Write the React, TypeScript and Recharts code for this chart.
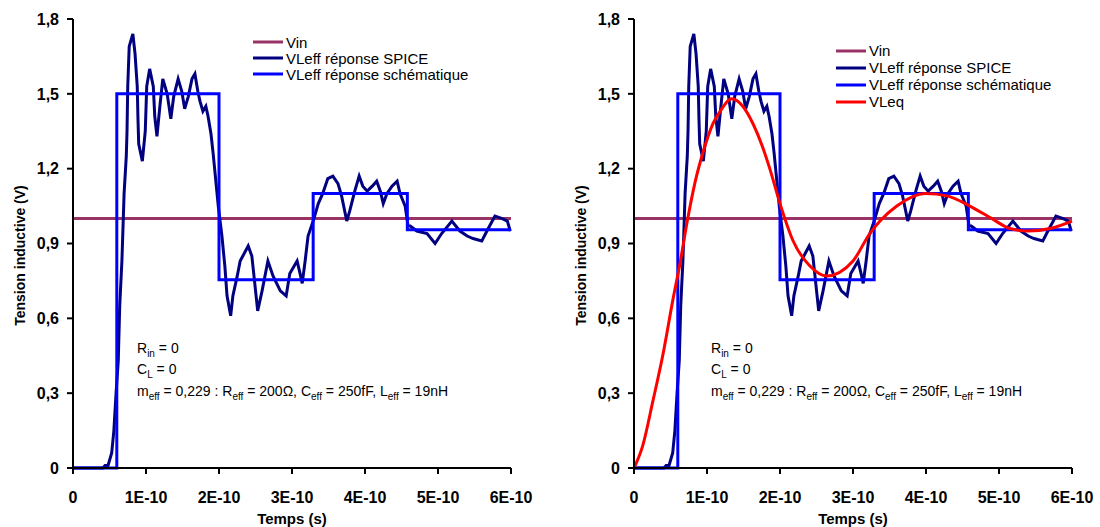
import { LineChart, Line, XAxis, YAxis, Legend } from 'recharts';

const FONT = '"Liberation Sans", Arial, sans-serif';

// time in units of 1E-10 s
const timeTicks = [0, 1, 2, 3, 4, 5, 6];
const voltTicks = [0, 0.3, 0.6, 0.9, 1.2, 1.5, 1.8];

const seriesNames = ['Vin', 'VLeff réponse SPICE', 'VLeff réponse schématique', 'VLeq'];

const vinT = [0, 6];
const vinV = [1, 1];

const spiceT = [
  0, 0.41, 0.44, 0.48, 0.53, 0.56, 0.59, 0.62, 0.64, 0.67, 0.7, 0.73, 0.74, 0.75, 0.77, 0.79, 0.82, 0.85,
  0.88, 0.89, 0.9, 0.95, 0.99, 1.01, 1.05, 1.1, 1.12, 1.15, 1.19, 1.23, 1.29, 1.34, 1.38, 1.44, 1.49,
  1.53, 1.58, 1.63, 1.67, 1.71, 1.74, 1.78, 1.82, 1.85, 1.89, 1.92, 1.95, 1.99, 2.04, 2.08, 2.11, 2.16,
  2.19, 2.25, 2.29, 2.4, 2.45, 2.49, 2.53, 2.59, 2.67, 2.74, 2.84, 2.92, 2.97, 3.07, 3.11, 3.14, 3.18,
  3.22, 3.29, 3.36, 3.42, 3.49, 3.56, 3.63, 3.68, 3.75, 3.79, 3.86, 3.92, 3.97, 4.03, 4.1, 4.16, 4.21,
  4.25, 4.3, 4.37, 4.44, 4.48, 4.55, 4.59, 4.62, 4.71, 4.85, 4.96, 5.05, 5.19, 5.3, 5.4, 5.48, 5.6,
  5.67, 5.78, 5.88, 5.95, 5.99,
];
const spiceV = [
  0, 0, 0.01, 0.01, 0.06, 0.15, 0.3, 0.43, 0.65, 0.83, 1.1, 1.25, 1.35, 1.53, 1.69, 1.71, 1.74, 1.66,
  1.53, 1.4, 1.3, 1.23, 1.35, 1.53, 1.6, 1.53, 1.41, 1.33, 1.45, 1.56, 1.5, 1.4, 1.49, 1.56, 1.51,
  1.44, 1.49, 1.56, 1.58, 1.51, 1.47, 1.43, 1.45, 1.41, 1.34, 1.26, 1.17, 1.05, 0.93, 0.81, 0.69, 0.61,
  0.69, 0.77, 0.83, 0.89, 0.85, 0.74, 0.63, 0.71, 0.83, 0.77, 0.71, 0.69, 0.78, 0.83, 0.78, 0.74, 0.83,
  0.93, 0.99, 1.06, 1.1, 1.16, 1.17, 1.14, 1.09, 0.99, 1.03, 1.11, 1.17, 1.13, 1.11, 1.13, 1.15, 1.11,
  1.06, 1.1, 1.13, 1.15, 1.1, 1.05, 0.97, 0.97, 0.95, 0.94, 0.9, 0.94, 0.99, 0.95, 0.93, 0.92, 0.91,
  0.95, 1.01, 1.0, 0.99, 0.95,
];

const schemT = [0, 0.6, 0.6, 2.0, 2.0, 3.29, 3.29, 4.58, 4.58, 6];
const schemV = [0, 0, 1.5, 1.5, 0.755, 0.755, 1.1, 1.1, 0.955, 0.955];

const leqT = [
  0, 0.12, 0.26, 0.4, 0.53, 0.63, 0.73, 0.84, 0.95, 1.08, 1.18, 1.34, 1.49, 1.63, 1.77, 1.86, 2.0, 2.18,
  2.41, 2.64, 3.0, 3.23, 3.37, 3.6, 3.99, 4.3, 4.6, 4.9, 5.15, 5.4, 5.7, 6.0,
];
const leqV = [
  0, 0.09, 0.27, 0.46, 0.67, 0.82, 0.99, 1.15, 1.27, 1.38, 1.43, 1.48, 1.45, 1.38, 1.28, 1.2, 1.06, 0.91,
  0.81, 0.77, 0.83, 0.94, 0.99, 1.05, 1.1, 1.09, 1.05, 1.0, 0.96, 0.95, 0.96, 0.99,
];

const zip = (t: number[], v: number[]) => t.map((x, i) => ({ t: x, v: v[i] }));

const vinData = zip(vinT, vinV);
const spiceData = zip(spiceT, spiceV);
const schemData = zip(schemT, schemV);
const leqData = zip(leqT, leqV);

const fmtTime = (v: number) => (v === 0 ? '0' : `${v}E-10`);
const fmtVolt = (v: number) => (v === 0 ? '0' : v.toFixed(1).replace('.', ','));

const axisStroke = { stroke: '#000', strokeWidth: 2 };
const tickStyle = { fill: '#000', fontSize: 16, fontWeight: 700, fontFamily: FONT };

// eslint-disable-next-line @typescript-eslint/no-explicit-any
function YTitle({ viewBox }: any) {
  const cx = viewBox.x + 20;
  const cy = viewBox.y + viewBox.height / 2 + 12;
  return (
    <text
      x={cx}
      y={cy}
      transform={`rotate(-90 ${cx} ${cy})`}
      textAnchor="middle"
      dominantBaseline="central"
      fill="#000"
      fontSize={14}
      fontWeight={700}
      fontFamily={FONT}
    >
      Tension inductive (V)
    </text>
  );
}

// eslint-disable-next-line @typescript-eslint/no-explicit-any
function LegendBox({ payload, rowGap }: any) {
  const items = [...(payload ?? [])].sort(
    (a: { value: string }, b: { value: string }) => seriesNames.indexOf(a.value) - seriesNames.indexOf(b.value),
  );
  return (
    <div style={{ fontFamily: FONT, fontSize: 15, color: '#000' }}>
      {items.map((p: { value: string; color: string }) => (
        <div key={p.value} style={{ display: 'flex', alignItems: 'center', height: rowGap, whiteSpace: 'nowrap' }}>
          <svg width={30} height={4} style={{ marginRight: 3 }}>
            <line x1={0} y1={2} x2={30} y2={2} stroke={p.color} strokeWidth={3} />
          </svg>
          <span>{p.value}</span>
        </div>
      ))}
    </div>
  );
}

function Notes({ left }: { left: number }) {
  const row = (top: number) => ({
    position: 'absolute' as const,
    left,
    top,
    fontFamily: FONT,
    fontSize: 14,
    lineHeight: '20px',
    whiteSpace: 'nowrap' as const,
    color: '#000',
  });
  const sub = { fontSize: 10 };
  return (
    <>
      <div style={row(338)}>
        R<sub style={sub}>in</sub> = 0
      </div>
      <div style={row(359)}>
        C<sub style={sub}>L</sub> = 0
      </div>
      <div style={row(381)}>
        m<sub style={sub}>eff</sub> = 0,229 : R<sub style={sub}>eff</sub> = 200Ω, C<sub style={sub}>eff</sub> = 250fF, L
        <sub style={sub}>eff</sub> = 19nH
      </div>
    </>
  );
}

interface PanelProps {
  left: number;
  withLeq: boolean;
  legendLeft: number;
  legendTop: number;
  rowGap: number;
}

function Panel({ left, withLeq, legendLeft, legendTop, rowGap }: PanelProps) {
  return (
    <div style={{ position: 'absolute', left, top: 0 }}>
      <LineChart width={550} height={527} margin={{ top: 19, right: 39, bottom: 0, left: 0 }}>
        <XAxis
          dataKey="t"
          type="number"
          domain={[0, 6]}
          ticks={timeTicks}
          interval={0}
          tickFormatter={fmtTime}
          height={59}
          tickSize={6}
          tickMargin={18}
          axisLine={axisStroke}
          tickLine={axisStroke}
          tick={tickStyle}
          label={{ value: 'Temps (s)', position: 'insideBottom', offset: 3, fill: '#000', fontSize: 15, fontWeight: 700, fontFamily: FONT }}
        />
        <YAxis
          type="number"
          domain={[0, 1.8]}
          ticks={voltTicks}
          interval={0}
          tickFormatter={fmtVolt}
          width={73}
          tickSize={6}
          tickMargin={8}
          axisLine={axisStroke}
          tickLine={axisStroke}
          tick={tickStyle}
          label={<YTitle />}
        />
        <Legend
          layout="vertical"
          align="center"
          verticalAlign="middle"
          wrapperStyle={{ left: legendLeft, top: legendTop, width: 'auto', height: 'auto' }}
          content={(props) => <LegendBox {...props} rowGap={rowGap} />}
        />
        <Line data={vinData} dataKey="v" name={seriesNames[0]} type="linear" stroke="#993366" strokeWidth={3} dot={false} activeDot={false} isAnimationActive={false} />
        <Line data={spiceData} dataKey="v" name={seriesNames[1]} type="linear" stroke="#000080" strokeWidth={3} dot={false} activeDot={false} isAnimationActive={false} />
        <Line data={schemData} dataKey="v" name={seriesNames[2]} type="linear" stroke="#0000FF" strokeWidth={3} dot={false} activeDot={false} isAnimationActive={false} />
        {withLeq && (
          <Line data={leqData} dataKey="v" name={seriesNames[3]} type="monotone" stroke="#FF0000" strokeWidth={3} dot={false} activeDot={false} isAnimationActive={false} />
        )}
      </LineChart>
    </div>
  );
}

export default function App() {
  return (
    <div style={{ position: 'absolute', left: 0, top: 0, width: 1100, height: 527, background: '#fff' }}>
      <Panel left={0} withLeq={false} legendLeft={253} legendTop={34} rowGap={16} />
      <Panel left={561} withLeq legendLeft={275} legendTop={42} rowGap={17} />
      <Notes left={137} />
      <Notes left={711} />
    </div>
  );
}
